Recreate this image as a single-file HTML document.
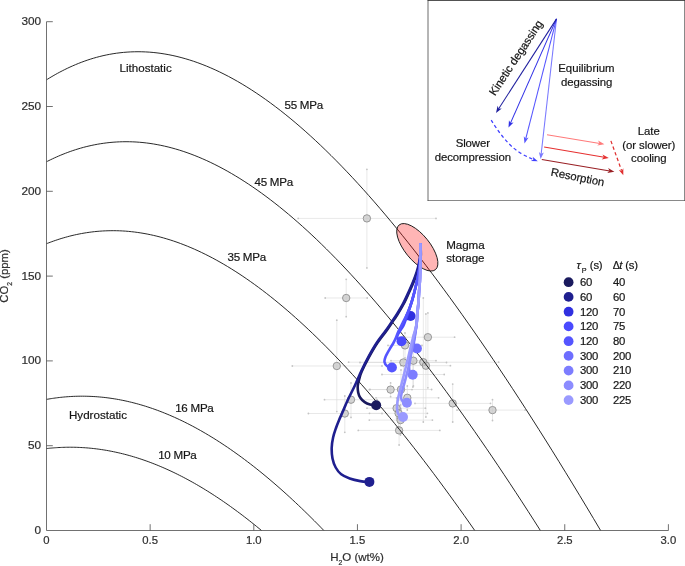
<!DOCTYPE html>
<html><head><meta charset="utf-8"><title>Figure</title>
<style>html,body{margin:0;padding:0;background:#fff}svg{display:block}text{stroke:#222;stroke-width:.2px}</style></head>
<body>
<svg width="685" height="566" viewBox="0 0 685 566" font-family='"Liberation Sans", Arial, Helvetica, sans-serif' font-size="11.6" fill="#111">
<rect width="685" height="566" fill="#fff"/>
<g stroke="#d8d8d8" stroke-width="0.6" fill="none">
<path d="M298.2 218.4H436.0M366.9 169.3V267.9"/>
<path d="M325.2 298.0H367.2M346.2 279.3V316.7"/>
<path d="M292.3 366.0H382.0M336.8 320.2V411.6"/>
<path d="M403.4 337.2H454.6M427.9 312.9V387.8"/>
<path d="M388.0 345.4H422.0M405.0 333.0V358.0"/>
<path d="M360.0 362.5H446.5M403.4 345.0V380.0"/>
<path d="M391.0 360.7H436.0M413.4 335.0V386.0"/>
<path d="M348.6 362.2H498.7M423.3 298.0V422.0"/>
<path d="M401.0 365.7H450.4M425.9 314.0V417.0"/>
<path d="M382.0 374.5H444.2M412.9 362.0V387.0"/>
<path d="M369.3 389.6H412.0M390.6 382.9V396.7"/>
<path d="M370.0 389.5H431.6M401.0 370.0V409.0"/>
<path d="M376.0 397.8H438.6M407.3 386.0V410.0"/>
<path d="M324.5 399.7H377.0M351.0 382.9V417.4"/>
<path d="M308.4 413.5H382.0M344.8 396.0V432.3"/>
<path d="M367.0 408.2H425.4M396.6 398.0V418.0"/>
<path d="M369.5 413.3H427.4M398.6 400.0V427.0"/>
<path d="M369.3 420.1H432.4M400.5 405.0V435.0"/>
<path d="M358.3 430.4H439.8M399.1 416.0V445.0"/>
<path d="M415.0 403.4H490.5M452.7 384.1V422.0"/>
<path d="M457.0 410.1H525.1M492.5 399.7V420.5"/>
</g>
<g fill="#c4c4c4">
<circle cx="298.2" cy="218.4" r="0.9"/>
<circle cx="436.0" cy="218.4" r="0.9"/>
<circle cx="366.9" cy="169.3" r="0.9"/>
<circle cx="366.9" cy="267.9" r="0.9"/>
<circle cx="325.2" cy="298.0" r="0.9"/>
<circle cx="367.2" cy="298.0" r="0.9"/>
<circle cx="346.2" cy="279.3" r="0.9"/>
<circle cx="346.2" cy="316.7" r="0.9"/>
<circle cx="292.3" cy="366.0" r="0.9"/>
<circle cx="382.0" cy="366.0" r="0.9"/>
<circle cx="336.8" cy="320.2" r="0.9"/>
<circle cx="336.8" cy="411.6" r="0.9"/>
<circle cx="403.4" cy="337.2" r="0.9"/>
<circle cx="454.6" cy="337.2" r="0.9"/>
<circle cx="427.9" cy="312.9" r="0.9"/>
<circle cx="427.9" cy="387.8" r="0.9"/>
<circle cx="388.0" cy="345.4" r="0.9"/>
<circle cx="422.0" cy="345.4" r="0.9"/>
<circle cx="405.0" cy="333.0" r="0.9"/>
<circle cx="405.0" cy="358.0" r="0.9"/>
<circle cx="360.0" cy="362.5" r="0.9"/>
<circle cx="446.5" cy="362.5" r="0.9"/>
<circle cx="403.4" cy="345.0" r="0.9"/>
<circle cx="403.4" cy="380.0" r="0.9"/>
<circle cx="391.0" cy="360.7" r="0.9"/>
<circle cx="436.0" cy="360.7" r="0.9"/>
<circle cx="413.4" cy="335.0" r="0.9"/>
<circle cx="413.4" cy="386.0" r="0.9"/>
<circle cx="348.6" cy="362.2" r="0.9"/>
<circle cx="498.7" cy="362.2" r="0.9"/>
<circle cx="423.3" cy="298.0" r="0.9"/>
<circle cx="423.3" cy="422.0" r="0.9"/>
<circle cx="401.0" cy="365.7" r="0.9"/>
<circle cx="450.4" cy="365.7" r="0.9"/>
<circle cx="425.9" cy="314.0" r="0.9"/>
<circle cx="425.9" cy="417.0" r="0.9"/>
<circle cx="382.0" cy="374.5" r="0.9"/>
<circle cx="444.2" cy="374.5" r="0.9"/>
<circle cx="412.9" cy="362.0" r="0.9"/>
<circle cx="412.9" cy="387.0" r="0.9"/>
<circle cx="369.3" cy="389.6" r="0.9"/>
<circle cx="412.0" cy="389.6" r="0.9"/>
<circle cx="390.6" cy="382.9" r="0.9"/>
<circle cx="390.6" cy="396.7" r="0.9"/>
<circle cx="370.0" cy="389.5" r="0.9"/>
<circle cx="431.6" cy="389.5" r="0.9"/>
<circle cx="401.0" cy="370.0" r="0.9"/>
<circle cx="401.0" cy="409.0" r="0.9"/>
<circle cx="376.0" cy="397.8" r="0.9"/>
<circle cx="438.6" cy="397.8" r="0.9"/>
<circle cx="407.3" cy="386.0" r="0.9"/>
<circle cx="407.3" cy="410.0" r="0.9"/>
<circle cx="324.5" cy="399.7" r="0.9"/>
<circle cx="377.0" cy="399.7" r="0.9"/>
<circle cx="351.0" cy="382.9" r="0.9"/>
<circle cx="351.0" cy="417.4" r="0.9"/>
<circle cx="308.4" cy="413.5" r="0.9"/>
<circle cx="382.0" cy="413.5" r="0.9"/>
<circle cx="344.8" cy="396.0" r="0.9"/>
<circle cx="344.8" cy="432.3" r="0.9"/>
<circle cx="367.0" cy="408.2" r="0.9"/>
<circle cx="425.4" cy="408.2" r="0.9"/>
<circle cx="396.6" cy="398.0" r="0.9"/>
<circle cx="396.6" cy="418.0" r="0.9"/>
<circle cx="369.5" cy="413.3" r="0.9"/>
<circle cx="427.4" cy="413.3" r="0.9"/>
<circle cx="398.6" cy="400.0" r="0.9"/>
<circle cx="398.6" cy="427.0" r="0.9"/>
<circle cx="369.3" cy="420.1" r="0.9"/>
<circle cx="432.4" cy="420.1" r="0.9"/>
<circle cx="400.5" cy="405.0" r="0.9"/>
<circle cx="400.5" cy="435.0" r="0.9"/>
<circle cx="358.3" cy="430.4" r="0.9"/>
<circle cx="439.8" cy="430.4" r="0.9"/>
<circle cx="399.1" cy="416.0" r="0.9"/>
<circle cx="399.1" cy="445.0" r="0.9"/>
<circle cx="415.0" cy="403.4" r="0.9"/>
<circle cx="490.5" cy="403.4" r="0.9"/>
<circle cx="452.7" cy="384.1" r="0.9"/>
<circle cx="452.7" cy="422.0" r="0.9"/>
<circle cx="457.0" cy="410.1" r="0.9"/>
<circle cx="525.1" cy="410.1" r="0.9"/>
<circle cx="492.5" cy="399.7" r="0.9"/>
<circle cx="492.5" cy="420.5" r="0.9"/>
</g>
<g fill="#c6c6c6" fill-opacity="0.72" stroke="#858585" stroke-width="0.8">
<circle cx="366.9" cy="218.4" r="3.7"/>
<circle cx="346.2" cy="298.0" r="3.7"/>
<circle cx="336.8" cy="366.0" r="3.7"/>
<circle cx="427.9" cy="337.2" r="3.7"/>
<circle cx="405.0" cy="345.4" r="3.7"/>
<circle cx="403.4" cy="362.5" r="3.7"/>
<circle cx="413.4" cy="360.7" r="3.7"/>
<circle cx="423.3" cy="362.2" r="3.7"/>
<circle cx="425.9" cy="365.7" r="3.7"/>
<circle cx="412.9" cy="374.5" r="3.7"/>
<circle cx="390.6" cy="389.6" r="3.7"/>
<circle cx="401.0" cy="389.5" r="3.7"/>
<circle cx="407.3" cy="397.8" r="3.7"/>
<circle cx="351.0" cy="399.7" r="3.7"/>
<circle cx="344.8" cy="413.5" r="3.7"/>
<circle cx="396.6" cy="408.2" r="3.7"/>
<circle cx="398.6" cy="413.3" r="3.7"/>
<circle cx="400.5" cy="420.1" r="3.7"/>
<circle cx="399.1" cy="430.4" r="3.7"/>
<circle cx="452.7" cy="403.4" r="3.7"/>
<circle cx="492.5" cy="410.1" r="3.7"/>
</g>
<g fill="none" stroke="#111" stroke-width="0.9">
<path d="M46.50 79.82 L47.66 79.10 L49.26 78.12 L51.09 77.02 L53.08 75.85 L55.20 74.64 L57.44 73.39 L59.78 72.13 L62.21 70.86 L64.72 69.59 L67.30 68.33 L69.96 67.08 L72.69 65.86 L75.47 64.66 L78.32 63.49 L81.23 62.35 L84.19 61.26 L87.21 60.20 L90.27 59.20 L93.39 58.24 L96.56 57.34 L99.77 56.49 L103.03 55.70 L106.34 54.98 L109.69 54.32 L113.09 53.73 L116.53 53.21 L120.01 52.77 L123.53 52.40 L127.10 52.11 L130.70 51.90 L134.34 51.77 L138.03 51.73 L141.75 51.77 L145.51 51.91 L149.31 52.14 L153.15 52.46 L157.03 52.88 L160.94 53.40 L164.90 54.02 L168.88 54.73 L172.91 55.56 L176.97 56.48 L181.07 57.52 L185.20 58.66 L189.37 59.92 L193.58 61.28 L197.82 62.76 L202.10 64.36 L206.41 66.07 L210.76 67.90 L215.15 69.84 L219.57 71.91 L224.02 74.11 L228.51 76.42 L233.04 78.86 L237.60 81.43 L242.20 84.12 L246.83 86.94 L251.50 89.89 L256.20 92.97 L260.94 96.18 L265.71 99.53 L270.52 103.00 L275.37 106.62 L280.25 110.36 L285.16 114.25 L290.11 118.27 L295.10 122.43 L300.12 126.72 L305.18 131.16 L310.28 135.74 L315.41 140.46 L320.58 145.32 L325.78 150.32 L331.02 155.47 L336.30 160.75 L341.61 166.19 L346.96 171.77 L352.35 177.49 L357.77 183.36 L363.24 189.38 L368.73 195.54 L374.27 201.85 L379.85 208.31 L385.46 214.91 L391.11 221.67 L396.80 228.57 L402.53 235.63 L408.30 242.83 L414.10 250.18 L419.95 257.69 L425.83 265.34 L431.76 273.15 L437.72 281.11 L443.73 289.22 L449.77 297.49 L455.86 305.90 L461.99 314.47 L468.15 323.20 L474.36 332.07 L480.61 341.10 L486.91 350.29 L493.24 359.63 L499.62 369.13 L506.04 378.78 L512.51 388.59 L519.01 398.55 L525.57 408.67 L532.16 418.95 L538.80 429.39 L545.49 439.98 L552.22 450.74 L558.99 461.65 L565.81 472.72 L572.68 483.95 L579.59 495.35 L586.56 506.90 L593.56 518.62 L600.62 530.50"/>
<path d="M46.50 161.76 L47.55 161.23 L49.01 160.50 L50.67 159.69 L52.47 158.83 L54.40 157.93 L56.43 157.02 L58.55 156.09 L60.75 155.15 L63.03 154.22 L65.37 153.30 L67.78 152.38 L70.25 151.49 L72.78 150.61 L75.36 149.76 L77.99 148.94 L80.67 148.15 L83.40 147.39 L86.18 146.67 L89.00 145.99 L91.87 145.35 L94.78 144.75 L97.73 144.20 L100.72 143.70 L103.75 143.25 L106.82 142.85 L109.93 142.51 L113.07 142.23 L116.26 142.01 L119.48 141.84 L122.73 141.74 L126.02 141.71 L129.35 141.74 L132.71 141.84 L136.10 142.01 L139.53 142.26 L142.99 142.57 L146.49 142.96 L150.01 143.43 L153.57 143.98 L157.17 144.61 L160.79 145.32 L164.45 146.11 L168.14 146.98 L171.86 147.94 L175.61 148.99 L179.40 150.12 L183.21 151.35 L187.06 152.66 L190.93 154.07 L194.84 155.57 L198.78 157.17 L202.75 158.86 L206.75 160.64 L210.78 162.53 L214.84 164.51 L218.93 166.59 L223.06 168.78 L227.21 171.06 L231.39 173.45 L235.60 175.95 L239.85 178.54 L244.12 181.25 L248.43 184.06 L252.76 186.97 L257.13 190.00 L261.52 193.13 L265.95 196.38 L270.40 199.73 L274.89 203.20 L279.41 206.78 L283.96 210.47 L288.54 214.27 L293.15 218.19 L297.79 222.23 L302.46 226.38 L307.16 230.64 L311.89 235.03 L316.66 239.53 L321.45 244.15 L326.28 248.88 L331.14 253.74 L336.03 258.71 L340.95 263.81 L345.90 269.02 L350.89 274.36 L355.90 279.82 L360.95 285.40 L366.03 291.10 L371.14 296.92 L376.29 302.87 L381.47 308.94 L386.68 315.14 L391.92 321.46 L397.20 327.90 L402.51 334.47 L407.85 341.17 L413.23 347.99 L418.64 354.93 L424.09 362.01 L429.56 369.21 L435.08 376.53 L440.62 383.99 L446.21 391.57 L451.82 399.28 L457.47 407.11 L463.16 415.08 L468.88 423.18 L474.64 431.40 L480.43 439.75 L486.26 448.24 L492.13 456.85 L498.03 465.60 L503.97 474.47 L509.95 483.48 L515.96 492.62 L522.01 501.89 L528.10 511.29 L534.23 520.83 L540.39 530.50"/>
<path d="M46.50 243.71 L47.43 243.34 L48.72 242.84 L50.19 242.29 L51.79 241.70 L53.49 241.09 L55.29 240.46 L57.16 239.83 L59.11 239.19 L61.12 238.56 L63.19 237.94 L65.32 237.33 L67.50 236.73 L69.73 236.14 L72.01 235.57 L74.34 235.03 L76.70 234.51 L79.11 234.01 L81.56 233.54 L84.05 233.10 L86.58 232.69 L89.15 232.32 L91.75 231.98 L94.38 231.67 L97.05 231.40 L99.76 231.18 L102.49 230.99 L105.26 230.85 L108.06 230.75 L110.89 230.69 L113.76 230.68 L116.65 230.72 L119.57 230.81 L122.53 230.95 L125.51 231.14 L128.52 231.39 L131.56 231.69 L134.63 232.04 L137.73 232.46 L140.85 232.93 L144.00 233.46 L147.18 234.04 L150.39 234.70 L153.62 235.41 L156.88 236.18 L160.17 237.03 L163.48 237.93 L166.82 238.91 L170.19 239.95 L173.58 241.05 L177.00 242.23 L180.44 243.48 L183.91 244.80 L187.41 246.19 L190.93 247.66 L194.47 249.20 L198.04 250.81 L201.64 252.50 L205.26 254.27 L208.91 256.11 L212.58 258.03 L216.28 260.03 L220.00 262.11 L223.75 264.27 L227.53 266.51 L231.32 268.84 L235.15 271.24 L239.00 273.73 L242.87 276.30 L246.77 278.96 L250.69 281.70 L254.64 284.53 L258.62 287.44 L262.62 290.44 L266.64 293.53 L270.69 296.71 L274.76 299.97 L278.86 303.33 L282.99 306.77 L287.14 310.31 L291.32 313.93 L295.52 317.65 L299.74 321.46 L304.00 325.36 L308.27 329.35 L312.58 333.44 L316.91 337.62 L321.26 341.89 L325.64 346.26 L330.05 350.73 L334.48 355.29 L338.94 359.94 L343.43 364.69 L347.94 369.54 L352.47 374.49 L357.04 379.53 L361.63 384.67 L366.24 389.90 L370.89 395.24 L375.56 400.67 L380.25 406.21 L384.98 411.84 L389.73 417.57 L394.51 423.40 L399.31 429.33 L404.15 435.36 L409.01 441.49 L413.89 447.73 L418.81 454.06 L423.75 460.50 L428.73 467.04 L433.73 473.68 L438.76 480.42 L443.81 487.26 L448.90 494.21 L454.01 501.26 L459.16 508.41 L464.33 515.67 L469.53 523.03 L474.76 530.50"/>
<path d="M46.50 399.39 L47.13 399.28 L48.01 399.13 L49.01 398.96 L50.10 398.78 L51.25 398.60 L52.47 398.41 L53.75 398.22 L55.07 398.04 L56.43 397.86 L57.84 397.68 L59.28 397.51 L60.76 397.34 L62.27 397.19 L63.81 397.04 L65.38 396.90 L66.98 396.77 L68.61 396.65 L70.27 396.55 L71.95 396.45 L73.65 396.37 L75.38 396.31 L77.13 396.26 L78.90 396.22 L80.70 396.20 L82.52 396.20 L84.35 396.21 L86.21 396.24 L88.09 396.29 L89.99 396.35 L91.91 396.44 L93.85 396.55 L95.80 396.67 L97.78 396.82 L99.77 396.99 L101.78 397.18 L103.81 397.39 L105.85 397.62 L107.92 397.88 L110.00 398.16 L112.09 398.47 L114.21 398.80 L116.34 399.15 L118.48 399.53 L120.64 399.94 L122.82 400.37 L125.02 400.83 L127.23 401.31 L129.45 401.83 L131.69 402.37 L133.95 402.94 L136.22 403.54 L138.51 404.16 L140.81 404.82 L143.13 405.51 L145.46 406.23 L147.81 406.97 L150.17 407.75 L152.54 408.56 L154.93 409.41 L157.34 410.28 L159.76 411.19 L162.19 412.13 L164.64 413.11 L167.10 414.12 L169.58 415.16 L172.07 416.24 L174.58 417.35 L177.10 418.49 L179.63 419.68 L182.18 420.89 L184.74 422.15 L187.32 423.44 L189.91 424.77 L192.51 426.13 L195.13 427.53 L197.76 428.97 L200.40 430.45 L203.06 431.97 L205.73 433.52 L208.42 435.12 L211.12 436.75 L213.83 438.42 L216.56 440.14 L219.30 441.89 L222.06 443.68 L224.82 445.52 L227.61 447.39 L230.40 449.31 L233.21 451.27 L236.03 453.27 L238.87 455.31 L241.72 457.39 L244.59 459.52 L247.46 461.69 L250.36 463.90 L253.26 466.15 L256.18 468.45 L259.11 470.80 L262.06 473.18 L265.02 475.61 L267.99 478.09 L270.98 480.61 L273.98 483.18 L276.99 485.79 L280.02 488.44 L283.06 491.14 L286.12 493.89 L289.19 496.68 L292.27 499.52 L295.37 502.41 L298.48 505.34 L301.61 508.32 L304.74 511.35 L307.90 514.42 L311.06 517.54 L314.24 520.71 L317.44 523.92 L320.65 527.19 L323.87 530.50"/>
<path d="M46.50 448.56 L47.00 448.50 L47.70 448.43 L48.49 448.35 L49.35 448.26 L50.27 448.17 L51.23 448.08 L52.24 447.99 L53.28 447.91 L54.36 447.82 L55.48 447.74 L56.62 447.67 L57.78 447.59 L58.98 447.53 L60.20 447.47 L61.44 447.41 L62.70 447.36 L63.99 447.32 L65.29 447.29 L66.62 447.26 L67.96 447.24 L69.32 447.23 L70.70 447.23 L72.10 447.24 L73.52 447.26 L74.95 447.28 L76.40 447.32 L77.86 447.37 L79.34 447.43 L80.83 447.50 L82.34 447.58 L83.86 447.68 L85.40 447.78 L86.95 447.90 L88.52 448.03 L90.09 448.18 L91.69 448.34 L93.29 448.51 L94.91 448.69 L96.54 448.89 L98.18 449.10 L99.84 449.33 L101.51 449.57 L103.19 449.83 L104.88 450.10 L106.59 450.39 L108.30 450.70 L110.03 451.02 L111.77 451.35 L113.52 451.71 L115.28 452.08 L117.06 452.47 L118.84 452.87 L120.64 453.29 L122.45 453.73 L124.27 454.19 L126.10 454.67 L127.94 455.16 L129.79 455.68 L131.65 456.21 L133.52 456.76 L135.40 457.33 L137.30 457.92 L139.20 458.53 L141.11 459.17 L143.04 459.82 L144.97 460.49 L146.92 461.18 L148.87 461.89 L150.84 462.63 L152.81 463.38 L154.80 464.16 L156.80 464.96 L158.80 465.78 L160.82 466.63 L162.84 467.49 L164.88 468.38 L166.92 469.29 L168.98 470.22 L171.04 471.18 L173.12 472.16 L175.20 473.17 L177.30 474.19 L179.40 475.25 L181.51 476.32 L183.64 477.42 L185.77 478.55 L187.91 479.70 L190.06 480.87 L192.23 482.07 L194.40 483.29 L196.58 484.54 L198.77 485.82 L200.97 487.12 L203.18 488.45 L205.40 489.80 L207.63 491.18 L209.86 492.58 L212.11 494.02 L214.37 495.47 L216.63 496.96 L218.91 498.47 L221.19 500.01 L223.49 501.58 L225.79 503.17 L228.11 504.80 L230.43 506.45 L232.76 508.13 L235.10 509.83 L237.46 511.57 L239.82 513.33 L242.19 515.12 L244.57 516.94 L246.96 518.79 L249.35 520.67 L251.76 522.58 L254.18 524.51 L256.61 526.48 L259.04 528.47 L261.49 530.50"/>
</g>
<ellipse cx="417.3" cy="247.3" rx="28.8" ry="12.6" transform="rotate(51 417.3 247.3)" fill="#ff0000" fill-opacity="0.29" stroke="#1a1a1a" stroke-width="0.9"/>
<g fill="none" stroke="#4d4d4d" stroke-width="0.8">
<path d="M46.50 21.70V530.50H668.40M150.15 530.50v-6.3M253.80 530.50v-6.3M357.45 530.50v-6.3M461.10 530.50v-6.3M564.75 530.50v-6.3M668.40 530.50v-6.3M46.50 445.70h6.3M46.50 360.90h6.3M46.50 276.10h6.3M46.50 191.30h6.3M46.50 106.50h6.3M46.50 21.70h6.3"/>
</g>
<g font-size="11.3" fill="#333">
<text x="46.5" y="544.0" text-anchor="middle">0</text>
<text x="150.1" y="544.0" text-anchor="middle">0.5</text>
<text x="253.8" y="544.0" text-anchor="middle">1.0</text>
<text x="357.4" y="544.0" text-anchor="middle">1.5</text>
<text x="461.1" y="544.0" text-anchor="middle">2.0</text>
<text x="564.8" y="544.0" text-anchor="middle">2.5</text>
<text x="668.4" y="544.0" text-anchor="middle">3.0</text>
</g>
<g font-size="11.8" fill="#333">
<text x="41.1" y="533.9" text-anchor="end">0</text>
<text x="41.1" y="449.1" text-anchor="end">50</text>
<text x="41.1" y="364.3" text-anchor="end">100</text>
<text x="41.1" y="279.5" text-anchor="end">150</text>
<text x="41.1" y="194.7" text-anchor="end">200</text>
<text x="41.1" y="109.9" text-anchor="end">250</text>
<text x="41.1" y="25.1" text-anchor="end">300</text>
</g>
<text x="357.0" y="561.2" text-anchor="middle" fill="#333" font-size="11.5">H<tspan font-size="6.8" dy="3.3">2</tspan><tspan dy="-3.3">O (wt%)</tspan></text>
<text transform="translate(8.4 276.0) rotate(-90)" text-anchor="middle" fill="#333" font-size="11.3">CO<tspan font-size="6.8" dy="3.3">2</tspan><tspan dy="-3.3"> (ppm)</tspan></text>
<text x="119.5" y="71.9">Lithostatic</text>
<text x="69.0" y="418.5">Hydrostatic</text>
<text x="284.5" y="109.3" letter-spacing="-0.27">55 MPa</text>
<text x="254.5" y="185.5" letter-spacing="-0.27">45 MPa</text>
<text x="227.5" y="260.9" letter-spacing="-0.27">35 MPa</text>
<text x="175.2" y="411.6" letter-spacing="-0.27">16 MPa</text>
<text x="158.2" y="458.6" letter-spacing="-0.27">10 MPa</text>
<text x="446.3" y="248.6" letter-spacing="-0.08">Magma</text>
<text x="446.3" y="261.8" letter-spacing="-0.08">storage</text>
<path d="M420.40 243.20 C420.47 245.22 420.98 251.80 420.80 255.30 C420.62 258.80 419.90 261.40 419.30 264.20 C418.70 267.00 418.13 269.18 417.20 272.10 C416.27 275.02 415.08 278.25 413.70 281.70 C412.32 285.15 410.58 289.08 408.90 292.80 C407.22 296.52 405.57 300.28 403.60 304.00 C401.63 307.72 398.78 312.38 397.10 315.10 C395.42 317.82 395.30 317.67 393.50 320.30 C391.70 322.93 389.03 327.07 386.30 330.90 C383.57 334.73 380.02 338.88 377.10 343.30 C374.18 347.72 371.37 352.70 368.80 357.40 C366.23 362.10 363.27 367.98 361.70 371.50 C360.13 375.02 360.05 376.20 359.40 378.50 C358.75 380.80 358.00 382.98 357.80 385.30 C357.60 387.62 357.78 390.33 358.20 392.40 C358.62 394.47 359.22 396.08 360.30 397.70 C361.38 399.32 363.08 400.98 364.70 402.10 C366.32 403.22 368.08 403.88 370.00 404.40 C371.92 404.92 375.17 405.07 376.20 405.20" fill="none" stroke="#1a1a5e" stroke-width="2.6" stroke-linejoin="round"/>
<circle cx="376.2" cy="405.2" r="5.0" fill="#1a1a5e"/>
<path d="M420.40 243.20 C420.38 245.17 420.57 251.55 420.30 255.00 C420.03 258.45 419.40 261.10 418.80 263.90 C418.20 266.70 417.63 268.88 416.70 271.80 C415.77 274.72 414.58 277.95 413.20 281.40 C411.82 284.85 410.08 288.78 408.40 292.50 C406.72 296.22 405.07 299.98 403.10 303.70 C401.13 307.42 398.28 312.08 396.60 314.80 C394.92 317.52 394.80 317.37 393.00 320.00 C391.20 322.63 388.53 326.77 385.80 330.60 C383.07 334.43 379.52 338.58 376.60 343.00 C373.68 347.42 370.87 352.40 368.30 357.10 C365.73 361.80 363.42 366.50 361.20 371.20 C358.98 375.90 357.20 380.58 355.00 385.30 C352.80 390.02 350.05 395.08 348.00 399.50 C345.95 403.92 344.18 408.38 342.70 411.80 C341.22 415.22 340.22 417.30 339.10 420.00 C337.98 422.70 337.00 425.08 336.00 428.00 C335.00 430.92 333.82 434.20 333.10 437.50 C332.38 440.80 331.80 444.32 331.70 447.80 C331.60 451.28 331.83 455.12 332.50 458.40 C333.17 461.68 334.25 464.85 335.70 467.50 C337.15 470.15 338.87 472.47 341.20 474.30 C343.53 476.13 346.52 477.37 349.70 478.50 C352.88 479.63 357.02 480.53 360.30 481.10 C363.58 481.67 367.88 481.77 369.40 481.90" fill="none" stroke="#1f1f8f" stroke-width="2.6" stroke-linejoin="round"/>
<circle cx="369.4" cy="481.9" r="5.0" fill="#1f1f8f"/>
<path d="M420.40 243.20 C420.38 245.33 420.43 252.03 420.30 256.00 C420.17 259.97 420.13 262.90 419.60 267.00 C419.07 271.10 417.93 276.57 417.10 280.60 C416.27 284.63 415.50 287.67 414.60 291.20 C413.70 294.73 412.80 298.27 411.70 301.80 C410.60 305.33 408.90 309.98 408.00 312.40 C407.10 314.82 406.65 315.30 406.30 316.30 C405.95 317.30 405.72 317.97 405.90 318.40 C406.08 318.83 406.62 319.30 407.40 318.90 C408.18 318.50 410.07 316.48 410.60 316.00" fill="none" stroke="#3030e0" stroke-width="2.6" stroke-linejoin="round"/>
<circle cx="410.6" cy="316.0" r="5.0" fill="#3030e0"/>
<path d="M420.40 243.20 C420.38 245.33 420.43 252.03 420.30 256.00 C420.17 259.97 420.13 262.90 419.60 267.00 C419.07 271.10 417.93 276.57 417.10 280.60 C416.27 284.63 415.50 287.67 414.60 291.20 C413.70 294.73 412.75 298.27 411.70 301.80 C410.65 305.33 409.50 308.87 408.30 312.40 C407.10 315.93 405.43 320.60 404.50 323.00 C403.57 325.40 403.50 325.38 402.70 326.80 C401.90 328.22 400.57 330.05 399.70 331.50 C398.83 332.95 397.83 334.25 397.50 335.50 C397.17 336.75 397.03 338.03 397.70 339.00 C398.37 339.97 400.87 340.92 401.50 341.30" fill="none" stroke="#4a4aff" stroke-width="2.6" stroke-linejoin="round"/>
<circle cx="401.5" cy="341.3" r="5.0" fill="#4a4aff"/>
<path d="M420.40 243.20 C420.38 245.33 420.43 252.03 420.30 256.00 C420.17 259.97 420.13 262.90 419.60 267.00 C419.07 271.10 417.93 276.57 417.10 280.60 C416.27 284.63 415.50 287.67 414.60 291.20 C413.70 294.73 412.85 298.27 411.70 301.80 C410.55 305.33 409.22 308.87 407.70 312.40 C406.18 315.93 403.77 320.60 402.60 323.00 C401.43 325.40 401.40 325.38 400.70 326.80 C400.00 328.22 399.22 329.63 398.40 331.50 C397.58 333.37 396.63 336.08 395.80 338.00 C394.97 339.92 394.47 341.07 393.40 343.00 C392.33 344.93 390.73 347.23 389.40 349.60 C388.07 351.97 386.22 355.13 385.40 357.20 C384.58 359.27 384.23 360.53 384.50 362.00 C384.77 363.47 385.77 365.08 387.00 366.00 C388.23 366.92 391.08 367.25 391.90 367.50" fill="none" stroke="#5555ff" stroke-width="2.6" stroke-linejoin="round"/>
<circle cx="391.9" cy="367.5" r="5.0" fill="#5555ff"/>
<path d="M420.40 243.20 C420.40 245.67 420.43 253.73 420.40 258.00 C420.37 262.27 420.28 265.03 420.20 268.80 C420.12 272.57 420.08 276.87 419.90 280.60 C419.72 284.33 419.33 287.67 419.10 291.20 C418.87 294.73 418.77 298.27 418.50 301.80 C418.23 305.33 417.80 308.87 417.50 312.40 C417.20 315.93 416.97 320.17 416.70 323.00 C416.43 325.83 416.25 326.90 415.90 329.40 C415.55 331.90 414.95 335.57 414.60 338.00 C414.25 340.43 413.80 342.42 413.80 344.00 C413.80 345.58 414.08 346.75 414.60 347.50 C415.12 348.25 416.52 348.33 416.90 348.50" fill="none" stroke="#6e6eff" stroke-width="2.6" stroke-linejoin="round"/>
<circle cx="416.9" cy="348.5" r="5.0" fill="#6e6eff"/>
<path d="M420.40 243.20 C420.40 245.67 420.43 253.73 420.40 258.00 C420.37 262.27 420.28 265.03 420.20 268.80 C420.12 272.57 420.08 276.87 419.90 280.60 C419.72 284.33 419.33 287.67 419.10 291.20 C418.87 294.73 418.77 298.27 418.50 301.80 C418.23 305.33 417.80 308.87 417.50 312.40 C417.20 315.93 416.98 320.17 416.70 323.00 C416.42 325.83 416.22 326.78 415.80 329.40 C415.38 332.02 414.87 335.27 414.20 338.70 C413.53 342.13 412.52 346.78 411.80 350.00 C411.08 353.22 410.35 355.50 409.90 358.00 C409.45 360.50 409.20 362.92 409.10 365.00 C409.00 367.08 409.08 369.07 409.30 370.50 C409.52 371.93 409.83 372.88 410.40 373.60 C410.97 374.32 412.32 374.60 412.70 374.80" fill="none" stroke="#7d7dff" stroke-width="2.6" stroke-linejoin="round"/>
<circle cx="412.7" cy="374.8" r="5.0" fill="#7d7dff"/>
<path d="M420.40 243.20 C420.40 245.67 420.43 253.73 420.40 258.00 C420.37 262.27 420.28 265.03 420.20 268.80 C420.12 272.57 420.08 276.87 419.90 280.60 C419.72 284.33 419.33 287.67 419.10 291.20 C418.87 294.73 418.77 298.27 418.50 301.80 C418.23 305.33 417.80 308.87 417.50 312.40 C417.20 315.93 417.02 320.17 416.70 323.00 C416.38 325.83 416.18 326.57 415.60 329.40 C415.02 332.23 414.15 334.70 413.20 340.00 C412.25 345.30 411.33 354.13 409.90 361.20 C408.47 368.27 405.97 377.10 404.60 382.40 C403.23 387.70 402.30 390.43 401.70 393.00 C401.10 395.57 400.78 396.37 401.00 397.80 C401.22 399.23 402.02 400.77 403.00 401.60 C403.98 402.43 406.25 402.60 406.90 402.80" fill="none" stroke="#8c8cff" stroke-width="2.6" stroke-linejoin="round"/>
<circle cx="406.9" cy="402.8" r="5.0" fill="#8c8cff"/>
<path d="M420.40 243.20 C420.40 245.67 420.43 253.73 420.40 258.00 C420.37 262.27 420.28 265.03 420.20 268.80 C420.12 272.57 420.08 276.87 419.90 280.60 C419.72 284.33 419.33 287.67 419.10 291.20 C418.87 294.73 418.77 298.27 418.50 301.80 C418.23 305.33 417.80 308.87 417.50 312.40 C417.20 315.93 417.07 320.17 416.70 323.00 C416.33 325.83 416.02 326.57 415.30 329.40 C414.58 332.23 413.73 334.70 412.40 340.00 C411.07 345.30 409.03 354.13 407.30 361.20 C405.57 368.27 403.50 376.38 402.00 382.40 C400.50 388.42 399.12 393.53 398.30 397.30 C397.48 401.07 397.27 402.72 397.10 405.00 C396.93 407.28 397.00 409.30 397.30 411.00 C397.60 412.70 397.95 414.20 398.90 415.20 C399.85 416.20 402.32 416.70 403.00 417.00" fill="none" stroke="#9a9aff" stroke-width="2.6" stroke-linejoin="round"/>
<circle cx="403.0" cy="417.0" r="5.0" fill="#9a9aff"/>
<g font-size="11.3" letter-spacing="-0.18">
<text x="576.6" y="269.4"><tspan font-style="italic">τ</tspan><tspan font-size="7.2" dy="3.2" dx="1.0">P</tspan><tspan dy="-3.2" dx="0.6"> (s)</tspan></text>
<text x="612.8" y="269.4"><tspan font-size="10.6" letter-spacing="-0.6">Δ</tspan><tspan font-style="italic">t</tspan> (s)</text>
<circle cx="568.6" cy="282.2" r="4.9" fill="#1a1a5e"/>
<text x="579.9" y="286.0">60</text>
<text x="612.9" y="286.0">40</text>
<circle cx="568.6" cy="296.9" r="4.9" fill="#1f1f8f"/>
<text x="579.9" y="300.7">60</text>
<text x="612.9" y="300.7">60</text>
<circle cx="568.6" cy="311.7" r="4.9" fill="#3030e0"/>
<text x="579.9" y="315.5">120</text>
<text x="612.9" y="315.5">70</text>
<circle cx="568.6" cy="326.4" r="4.9" fill="#4a4aff"/>
<text x="579.9" y="330.2">120</text>
<text x="612.9" y="330.2">75</text>
<circle cx="568.6" cy="341.2" r="4.9" fill="#5555ff"/>
<text x="579.9" y="345.0">120</text>
<text x="612.9" y="345.0">80</text>
<circle cx="568.6" cy="355.9" r="4.9" fill="#6e6eff"/>
<text x="579.9" y="359.7">300</text>
<text x="612.9" y="359.7">200</text>
<circle cx="568.6" cy="370.6" r="4.9" fill="#7d7dff"/>
<text x="579.9" y="374.4">300</text>
<text x="612.9" y="374.4">210</text>
<circle cx="568.6" cy="385.4" r="4.9" fill="#8c8cff"/>
<text x="579.9" y="389.2">300</text>
<text x="612.9" y="389.2">220</text>
<circle cx="568.6" cy="400.1" r="4.9" fill="#9a9aff"/>
<text x="579.9" y="403.9">300</text>
<text x="612.9" y="403.9">225</text>
</g>
<rect x="428" y="0" width="257" height="200.5" fill="#fff"/>
<g stroke="#333" fill="none"><path d="M427.6 0.5H685" stroke-width="0.85"/><path d="M428 0V200.8" stroke-width="0.72"/><path d="M427.6 200.5H685" stroke-width="0.58"/><path d="M684.5 0V200.8" stroke-width="0.58"/></g>
<g font-size="11.4" letter-spacing="-0.08">
<path d="M556.50 18.90L541.12 154.43" stroke="#7a7aff" stroke-width="1.05" fill="none"/><polygon points="540.60,159.00 538.88,151.96 541.16,154.03 543.85,152.53" fill="#7a7aff"/>
<path d="M556.50 18.90L525.64 139.04" stroke="#5555ff" stroke-width="1.05" fill="none"/><polygon points="524.50,143.50 523.77,136.29 525.74,138.66 528.61,137.54" fill="#5555ff"/>
<path d="M556.50 18.90L510.36 123.39" stroke="#3030e6" stroke-width="1.05" fill="none"/><polygon points="508.50,127.60 508.96,120.37 510.52,123.03 513.53,122.39" fill="#3030e6"/>
<path d="M556.50 18.90L498.49 109.03" stroke="#1f1f9e" stroke-width="1.05" fill="none"/><polygon points="496.00,112.90 497.58,105.83 498.71,108.70 501.78,108.53" fill="#1f1f9e"/>
<path d="M491.2 120.2 C498 131 508 146 522 154 C526 156.3 530 158 533.5 159.6" fill="none" stroke="#4040ff" stroke-width="1.25" stroke-dasharray="3.4 2.6"/>
<polygon points="537.80,161.30 530.87,161.09 533.44,159.54 532.67,156.64" fill="#4040ff"/>
<path d="M547.00 134.70L599.86 143.45" stroke="#ff7a7a" stroke-width="1.05" fill="none"/><polygon points="604.40,144.20 597.28,145.56 599.47,143.38 598.10,140.62" fill="#ff7a7a"/>
<path d="M544.10 146.90L604.27 157.32" stroke="#e63030" stroke-width="1.05" fill="none"/><polygon points="608.80,158.10 601.67,159.40 603.87,157.25 602.53,154.48" fill="#e63030"/>
<path d="M541.80 159.40L609.86 170.93" stroke="#991f24" stroke-width="1.05" fill="none"/><polygon points="614.40,171.70 607.28,173.03 609.47,170.86 608.11,168.10" fill="#991f24"/>
<path d="M610.9 140.9 L621.6 170.5" fill="none" stroke="#e03030" stroke-width="1.25" stroke-dasharray="3.4 2.6"/>
<polygon points="623.30,175.20 618.82,169.91 621.69,170.78 623.33,168.27" fill="#e03030"/>
<text transform="translate(494.9 96.5) rotate(-56.5)" letter-spacing="-0.1">Kinetic degassing</text>
<text x="586.4" y="72.4" text-anchor="middle" letter-spacing="0">Equilibrium</text>
<text x="586.7" y="85.6" text-anchor="middle">degassing</text>
<text x="472.8" y="147.4" text-anchor="middle">Slower</text>
<text x="472.8" y="161.0" text-anchor="middle">decompression</text>
<text x="648.8" y="135.1" text-anchor="middle">Late</text>
<text x="648.8" y="148.7" text-anchor="middle">(or slower)</text>
<text x="648.8" y="162.0" text-anchor="middle">cooling</text>
<text transform="translate(550.2 175.6) rotate(11.3)">Resorption</text>
</g>
</svg>
</body></html>
